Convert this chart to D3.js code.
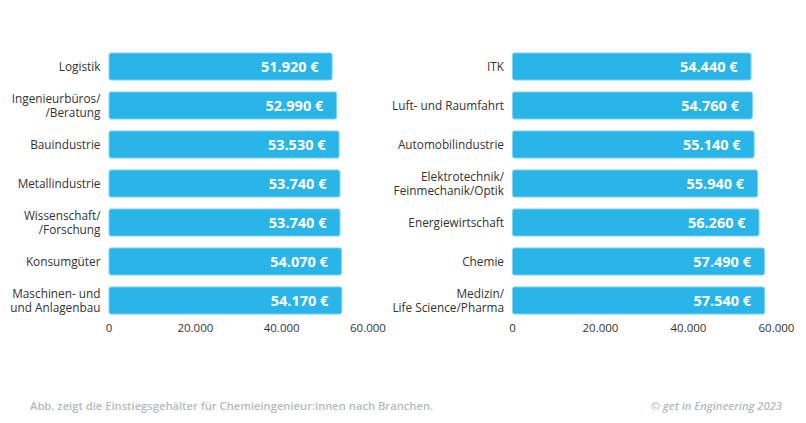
<!DOCTYPE html>
<html>
<head>
<meta charset="utf-8">
<script src="https://cdn.jsdelivr.net/npm/d3@7"></script>
<style>
  body { margin: 0; background: #fff; }
  svg { display: block; font-family: 'Open Sans', sans-serif; }
</style>
</head>
<body>
<svg id="chart" width="806" height="423"></svg>
<script>
// left panel
const leftCategories = [
  ['Logistik'],
  ['Ingenieurbüros/', '/Beratung'],
  ['Bauindustrie'],
  ['Metallindustrie'],
  ['Wissenschaft/', '/Forschung'],
  ['Konsumgüter'],
  ['Maschinen- und', 'und Anlagenbau']
];
const leftValues = [51920, 52990, 53530, 53740, 53740, 54070, 54170];

// right panel
const rightCategories = [
  ['ITK'],
  ['Luft- und Raumfahrt'],
  ['Automobilindustrie'],
  ['Elektrotechnik/', 'Feinmechanik/Optik'],
  ['Energiewirtschaft'],
  ['Chemie'],
  ['Medizin/', 'Life Science/Pharma']
];
const rightValues = [54440, 54760, 55140, 55940, 56260, 57490, 57540];

const tickValues = [0, 20000, 40000, 60000];
const footnote = 'Abb. zeigt die Einstiegsgehälter für Chemieingenieur:innen nach Branchen.';
const credit = '© get in Engineering 2023';

const barColor = '#29b5e8';
const fmt = d3.format(',');
const de = v => fmt(v).replace(/,/g, '.');

const svg = d3.select('#chart');

function panel(categories, values, x0, width) {
  const g = svg.append('g');
  const x = d3.scaleLinear().domain([0, 60000]).range([x0, x0 + width]);
  const y = d3.scaleBand().domain(d3.range(values.length))
    .range([47, 320]).paddingInner(0.28).paddingOuter(0.14);

  g.selectAll('.bar')
    .data(values)
    .join('rect')
    .attr('class', 'bar')
    .attr('x', x(0) + 0.5)
    .attr('y', (d, i) => y(i) + 0.5)
    .attr('width', d => x(d) - x(0) - 1)
    .attr('height', y.bandwidth() - 1)
    .attr('rx', 2)
    .attr('fill', barColor)
    .attr('stroke', '#7fd3f2')
    .attr('stroke-width', 1);

  g.selectAll('.val')
    .data(values)
    .join('text')
    .attr('class', 'val')
    .attr('x', d => x(d) - 14)
    .attr('y', (d, i) => y(i) + y.bandwidth() / 2 + 5.5)
    .attr('text-anchor', 'end')
    .attr('fill', '#fff')
    .attr('font-size', 14.5)
    .attr('font-weight', 700)
    .text(d => de(d) + ' €');

  const lab = g.selectAll('.lab')
    .data(categories)
    .join('text')
    .attr('class', 'lab')
    .attr('text-anchor', 'end')
    .attr('fill', '#333')
    .attr('font-size', 11.8)
    .attr('transform', (d, i) => `translate(${x0 - 8},${y(i) + y.bandwidth() / 2})`);
  lab.selectAll('tspan')
    .data(d => d.map((t, j) => ({ t, j, n: d.length })))
    .join('tspan')
    .attr('x', 0)
    .attr('y', d => (d.j - (d.n - 1) / 2) * 14.5 + 4.3)
    .text(d => d.t);

  const axis = g.append('g')
    .attr('transform', `translate(0,${y.range()[1]})`)
    .call(d3.axisBottom(x).tickValues(tickValues).tickSize(0).tickPadding(4).tickFormat(de));
  axis.select('.domain').remove();
  axis.selectAll('text')
    .attr('font-family', "'Open Sans', sans-serif")
    .attr('font-size', 11.5)
    .attr('fill', '#333');
}

panel(leftCategories, leftValues, 108.5, 259);
panel(rightCategories, rightValues, 512, 264);

svg.append('text')
  .attr('x', 30).attr('y', 410)
  .attr('fill', '#b5babe').attr('font-size', 11.2).attr('font-weight', 600)
  .text(footnote);
svg.append('text')
  .attr('x', 782).attr('y', 410)
  .attr('text-anchor', 'end')
  .attr('fill', '#b5babe').attr('font-size', 11.2).attr('font-weight', 600)
  .attr('font-style', 'italic')
  .text(credit);
</script>
</body>
</html>
